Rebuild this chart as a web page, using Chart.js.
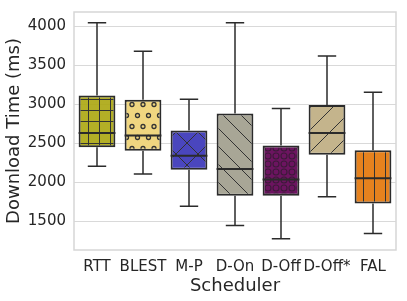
<!DOCTYPE html>
<html>
<head>
<meta charset="utf-8">
<script src="https://cdn.jsdelivr.net/npm/chart.js@4.4.1/dist/chart.umd.min.js"></script>
<style>
html, body { margin: 0; padding: 0; background: #fff; }
</style>
</head>
<body>
<canvas id="chart" width="407" height="301"></canvas>
<script>
// box plot values (ms)
const categories = ['RTT', 'BLEST', 'M-P', 'D-On', 'D-Off', 'D-Off*', 'FAL'];
const whiskerLow = [2205, 2108, 1695, 1449, 1279, 1815, 1347];
const q1 = [2448, 2406, 2163, 1828, 1828, 2355, 1730];
const medians = [2631, 2601, 2342, 2172, 2036, 2631, 2052];
const q3 = [3111, 3056, 2665, 2881, 2473, 2989, 2410];
const whiskerHigh = [4042, 3677, 3065, 4042, 2946, 3617, 3154];
const yTicks = [1500, 2000, 2500, 3000, 3500, 4000];

const fills = ['rgba(172,168,20,0.92)', '#f0d680', '#4a46be', '#a8a696', '#6c1460', '#c4b48c', '#e6821e'];
const hatches = ['+', 'o', 'x', '\\', 'O', '/', '|'];
const edgeColor = '#2b2b2b';
const textColor = '#262626';

function makePattern(kind, bg) {
    let w = 11, h = 11;
    if (kind === 'o') { w = 11; h = 22; }
    if (kind === 'x') { w = 22; h = 22; }
    if (kind === '\\') { w = 18; h = 18; }
    if (kind === '/') { w = 22; h = 22; }
    if (kind === 'O') { w = 8; h = 8; }
    const c = document.createElement('canvas');
    c.width = w; c.height = h;
    const g = c.getContext('2d');
    g.fillStyle = bg;
    g.fillRect(0, 0, w, h);
    g.strokeStyle = '#333';
    g.lineWidth = 1;
    g.beginPath();
    if (kind === '+') {
        g.moveTo(0.5, 0); g.lineTo(0.5, h);
        g.moveTo(0, 0.5); g.lineTo(w, 0.5);
    } else if (kind === '|') {
        g.moveTo(0.5, 0); g.lineTo(0.5, h);
    } else if (kind === '/') {
        g.moveTo(-1, h + 1); g.lineTo(w + 1, -1);
    } else if (kind === '\\') {
        g.moveTo(-1, -1); g.lineTo(w + 1, h + 1);
    } else if (kind === 'x') {
        g.moveTo(-1, h + 1); g.lineTo(w + 1, -1);
        g.moveTo(-1, -1); g.lineTo(w + 1, h + 1);
    } else if (kind === 'o') {
        g.lineWidth = 1.3;
        g.moveTo(5.5 + 2, 5.5); g.arc(5.5, 5.5, 2, 0, Math.PI * 2);
        g.moveTo(11 + 2, 16.5); g.arc(11, 16.5, 2, 0, Math.PI * 2);
        g.moveTo(0 + 2, 16.5); g.arc(0, 16.5, 2, 0, Math.PI * 2);
    } else if (kind === 'O') {
        g.strokeStyle = '#3e1a3a';
        g.lineWidth = 1.1;
        g.moveTo(4 + 3, 4); g.arc(4, 4, 3, 0, Math.PI * 2);
    }
    g.stroke();
    return g.createPattern(c, 'repeat');
}

const boxPlugin = {
    id: 'boxParts',
    beforeDatasetsDraw(chart) {
        const ctx = chart.ctx;
        const a = chart.chartArea;
        const x = chart.scales.x, y = chart.scales.y;
        const bars = chart.getDatasetMeta(0).data;
        ctx.save();
        // frame
        ctx.strokeStyle = '#d6d6d6';
        ctx.lineWidth = 1.5;
        ctx.strokeRect(a.left, a.top, a.right - a.left, a.bottom - a.top);
        // whiskers
        ctx.strokeStyle = edgeColor;
        ctx.lineWidth = 1.5;
        categories.forEach((c, i) => {
            const cx = x.getPixelForValue(i);
            const half = bars[i].width / 4;
            ctx.beginPath();
            ctx.moveTo(cx, y.getPixelForValue(q3[i]));
            ctx.lineTo(cx, y.getPixelForValue(whiskerHigh[i]));
            ctx.moveTo(cx, y.getPixelForValue(q1[i]));
            ctx.lineTo(cx, y.getPixelForValue(whiskerLow[i]));
            ctx.moveTo(cx - half, y.getPixelForValue(whiskerHigh[i]));
            ctx.lineTo(cx + half, y.getPixelForValue(whiskerHigh[i]));
            ctx.moveTo(cx - half, y.getPixelForValue(whiskerLow[i]));
            ctx.lineTo(cx + half, y.getPixelForValue(whiskerLow[i]));
            ctx.stroke();
        });
        ctx.restore();
    },
    afterDatasetsDraw(chart) {
        const ctx = chart.ctx;
        const x = chart.scales.x, y = chart.scales.y;
        const bars = chart.getDatasetMeta(0).data;
        ctx.save();
        ctx.strokeStyle = edgeColor;
        ctx.lineWidth = 2;
        categories.forEach((c, i) => {
            const cx = x.getPixelForValue(i);
            const half = bars[i].width / 2;
            const my = y.getPixelForValue(medians[i]);
            ctx.beginPath();
            ctx.moveTo(cx - half, my);
            ctx.lineTo(cx + half, my);
            ctx.stroke();
        });
        ctx.restore();
    }
};

const ctx = document.getElementById('chart').getContext('2d');
new Chart(ctx, {
    type: 'bar',
    data: {
        labels: categories,
        datasets: [{
            data: categories.map((_, i) => [q1[i], q3[i]]),
            backgroundColor: hatches.map((h, i) => makePattern(h, fills[i])),
            borderColor: edgeColor,
            borderWidth: 2,
            borderSkipped: false,
            categoryPercentage: 1,
            barPercentage: 0.8
        }]
    },
    options: {
        responsive: false,
        devicePixelRatio: 1,
        animation: false,
        layout: { padding: { top: 12, right: 11, left: 0, bottom: 0 } },
        plugins: { legend: { display: false }, tooltip: { enabled: false } },
        scales: {
            x: {
                grid: { display: false },
                border: { display: false },
                ticks: { color: textColor, font: { family: 'DejaVu Sans', size: 15 }, padding: 0, maxRotation: 0, autoSkip: false },
                title: { display: true, text: 'Scheduler', color: textColor, font: { family: 'DejaVu Sans', size: 18 }, padding: { top: 0, bottom: 4 } },
                afterFit: scale => { scale.height = 51; scale.paddingLeft = 0; scale.paddingRight = 0; }
            },
            y: {
                min: 1135,
                max: 4180,
                grid: { color: '#d9d9d9', lineWidth: 1, drawTicks: false },
                border: { display: false },
                ticks: { color: textColor, font: { family: 'DejaVu Sans', size: 15 }, padding: 8, callback: v => String(v) },
                afterBuildTicks: scale => { scale.ticks = yTicks.map(v => ({ value: v })); },
                title: { display: true, text: 'Download Time (ms)', color: textColor, font: { family: 'DejaVu Sans', size: 18 } },
                afterFit: scale => { scale.width = 74; scale.paddingTop = 0; scale.paddingBottom = 0; }
            }
        }
    },
    plugins: [boxPlugin]
});
</script>
</body>
</html>
